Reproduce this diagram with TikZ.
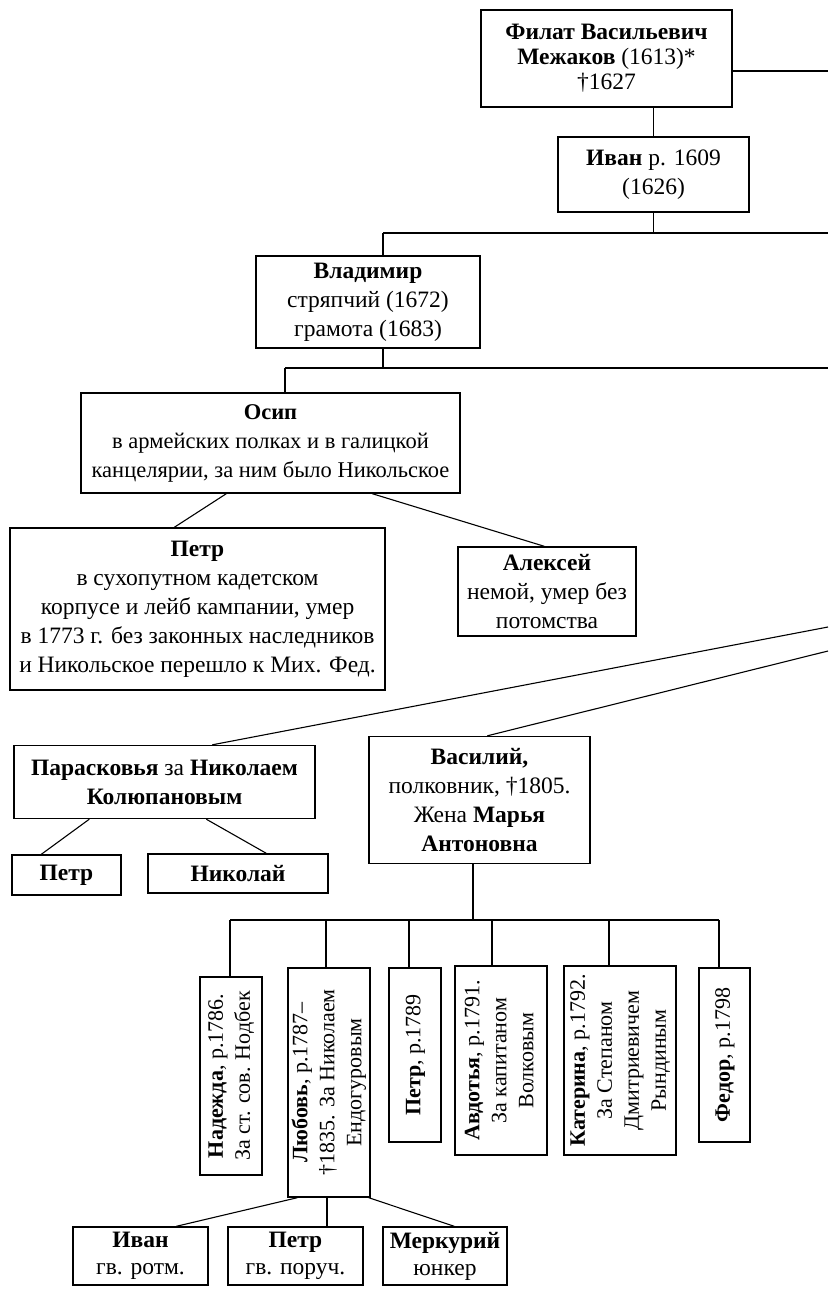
\documentclass[tikz,border=0pt]{standalone}
\usepackage{fontspec}
\usepackage{graphicx}
\setmainfont{Liberation Serif}
\tikzset{
  box/.style={draw, line width=1.4pt, inner sep=0pt, align=center,
    font=\fontsize{23.5}{29}\selectfont},
  vbox/.style={box, font=\fontsize{22}{27}\selectfont},
  bbox/.style={box, font=\fontsize{23.5}{27}\selectfont},
  con/.style={line width=1.1pt},
}
\newcommand{\vtext}[1]{\rotatebox{90}{\begin{tabular}{@{}c@{}}#1\end{tabular}}}
\begin{document}
\begin{tikzpicture}[x=1pt,y=-1pt]
\useasboundingbox (0,0) rectangle (828,1289);

% nodes
\node[box, minimum width=251pt, minimum height=97pt, font=\fontsize{23.5}{25}\selectfont] (f) at (606.5,58.5)
  {\textbf{Филат Васильевич}\\\textbf{Межаков} (1613)*\\†1627};
\node[box, minimum width=191pt, minimum height=75pt] (iv) at (653.5,174.5)
  {\textbf{Иван} р. 1609\\(1626)};
\node[box, minimum width=224pt, minimum height=92pt] (vl) at (368,302)
  {\textbf{Владимир}\\стряпчий (1672)\\грамота (1683)};
\node[box, minimum width=379pt, minimum height=100pt, font=\fontsize{22.5}{29}\selectfont] (os) at (270.5,443)
  {\textbf{Осип}\\в армейских полках и в галицкой\\канцелярии, за ним было Никольское};
\node[box, minimum width=375pt, minimum height=162pt] (pt) at (197.5,609)
  {\textbf{Петр}\\в сухопутном кадетском\\корпусе и лейб кампании, умер\\в 1773 г. без законных наследников\\и Никольское перешло к Мих. Фед.};
\node[box, minimum width=178pt, minimum height=89pt] (al) at (547,591.5)
  {\textbf{Алексей}\\немой, умер без\\потомства};
\node[box, minimum width=301pt, minimum height=73pt] (pa) at (164.5,782)
  {\textbf{Парасковья} за \textbf{Николаем}\\\textbf{Колюпановым}};
\node[box, minimum width=109pt, minimum height=40pt] (pp) at (66.5,875)
  {\textbf{Петр}};
\node[box, minimum width=180pt, minimum height=39pt] (nk) at (238,873.5)
  {\textbf{Николай}};
\node[box, minimum width=221pt, minimum height=127pt] (va) at (479.5,800)
  {\textbf{Василий,}\\полковник, †1805.\\Жена \textbf{Марья}\\\textbf{Антоновна}};

% rotated children
\node[vbox, minimum width=62pt, minimum height=198pt] (nad) at (231,1076)
  {\vtext{\textbf{Надежда}, р.1786.\\За ст. сов. Нодбек}};
\node[vbox, minimum width=82pt, minimum height=229pt] (lub) at (329,1082.5)
  {\vtext{\textbf{Любовь}, р.1787–\\†1835. За Николаем\\Ендогуровым}};
\node[vbox, minimum width=52pt, minimum height=174pt] (ptr) at (415,1055)
  {\vtext{\textbf{Петр}, р.1789}};
\node[vbox, minimum width=92pt, minimum height=189pt] (av) at (501,1060.5)
  {\vtext{\textbf{Авдотья}, р.1791.\\За капитаном\\Волковым}};
\node[vbox, minimum width=112pt, minimum height=189pt] (ka) at (620,1060.5)
  {\vtext{\textbf{Катерина}, р.1792.\\За Степаном\\Дмитриевичем\\Рындиным}};
\node[vbox, minimum width=51pt, minimum height=174pt] (fe) at (724.5,1055)
  {\vtext{\textbf{Федор}, р.1798}};

% bottom
\node[bbox, minimum width=135pt, minimum height=58pt] (iv2) at (140.5,1256)
  {\textbf{Иван}\\гв. ротм.};
\node[bbox, minimum width=135pt, minimum height=58pt] (pt2) at (295.5,1256)
  {\textbf{Петр}\\гв. поруч.};
\node[bbox, minimum width=124pt, minimum height=58pt] (me) at (445,1256)
  {\textbf{Меркурий}\\юнкер};

% coordinates
\coordinate (fr) at (828,71);
\coordinate (b1) at (383,233);
\coordinate (b1r) at (828,233);
\coordinate (b2) at (285,368);
\coordinate (b2r) at (828,368);
\coordinate (r1) at (828,627);
\coordinate (r2) at (828,651);
\coordinate (b3) at (473,920);
\coordinate (c1) at (230,920);
\coordinate (c2) at (326,920);
\coordinate (c3) at (409,920);
\coordinate (c4) at (492,920);
\coordinate (c5) at (609,920);
\coordinate (c6) at (719,920);
\coordinate (lm) at (327,0);

% connectors
\draw[con] (f.east |- fr) -- (fr);
\draw[con] (f.south -| iv.north) -- (iv.north);
\draw[con] (iv.south) -- (iv.south |- b1);
\draw[con] (b1) -- (b1r);
\draw[con] (b1) -- (b1 |- vl.north);
\draw[con] (b1 |- vl.south) -- (b1 |- b2);
\draw[con] (b2) -- (b2r);
\draw[con] (b2) -- (b2 |- os.north);
\draw[con] ([xshift=146pt]os.south west) -- ([xshift=165pt]pt.north west);
\draw[con] ([xshift=292pt]os.south west) -- ([xshift=87pt]al.north west);
\draw[con] (r1) -- ([xshift=199pt]pa.north west);
\draw[con] (r2) -- ([xshift=119pt]va.north west);
\draw[con] ([xshift=76pt]pa.south west) -- ([xshift=30pt]pp.north west);
\draw[con] ([xshift=193pt]pa.south west) -- ([xshift=119pt]nk.north west);
\draw[con] (b3 |- va.south) -- (b3);
\draw[con] (c1) -- (c6);
\draw[con] (c1) -- (c1 |- nad.north);
\draw[con] (c2) -- (c2 |- lub.north);
\draw[con] (c3) -- (c3 |- ptr.north);
\draw[con] (c4) -- (c4 |- av.north);
\draw[con] (c5) -- (c5 |- ka.north);
\draw[con] (c6) -- (c6 |- fe.north);
\draw[con] ([xshift=10pt]lub.south west) -- ([xshift=104pt]iv2.north west);
\draw[con] (lm |- lub.south) -- (lm |- pt2.north);
\draw[con] ([xshift=-2pt]lub.south east) -- ([xshift=72pt]me.north west);
\end{tikzpicture}
\end{document}
